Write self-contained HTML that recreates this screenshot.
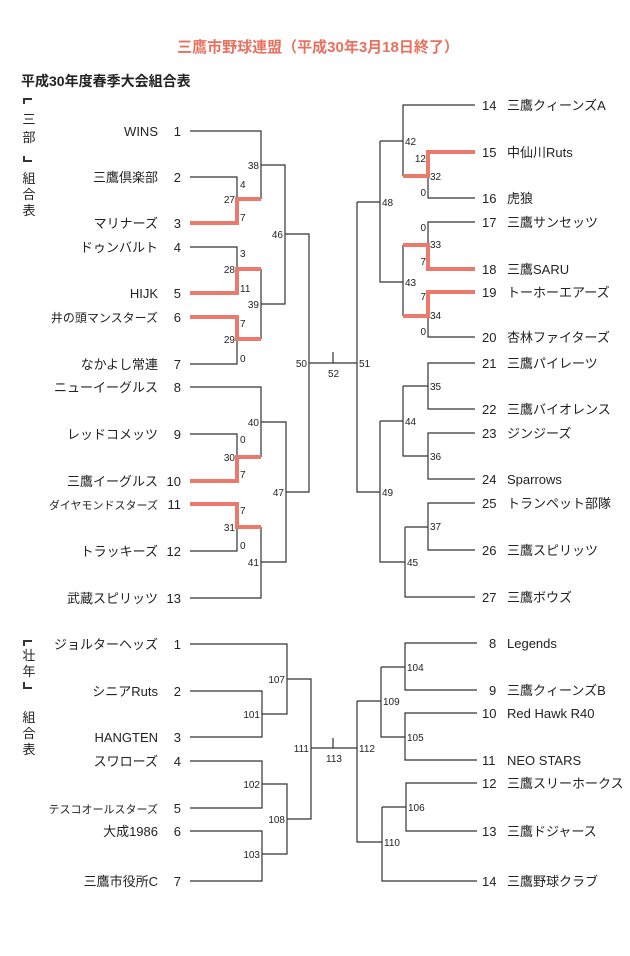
<!DOCTYPE html>
<html><head><meta charset="utf-8"><style>
body{margin:0;background:#fff;}
svg{display:block}
text{font-family:"Liberation Sans","Noto Sans CJK JP",sans-serif;fill:#222}
.n{font-size:13px}
.s{font-size:10px;fill:#333}
.k{stroke:#333;stroke-width:1.2;fill:none}
.r{stroke:#ea7b6c;stroke-width:4;fill:none}
</style></head><body>
<svg width="630" height="956" viewBox="0 0 630 956">
<text x="318" y="52" font-size="15" text-anchor="middle" style="fill:#e8705f;font-weight:bold">三鷹市野球連盟（平成30年3月18日終了）</text>
<text x="21" y="86" font-size="14" style="font-weight:bold">平成30年度春季大会組合表</text>
<path class="k" d="M24 104 V99 H32 M24 156 V161 H32" style="stroke-width:2"/>
<g class="n" text-anchor="middle">
<text x="29" y="124">三</text><text x="29" y="142">部</text>
<text x="29" y="183">組</text><text x="29" y="199">合</text><text x="29" y="215">表</text>
<text x="29" y="660">壮</text><text x="29" y="676">年</text>
<text x="29" y="722">組</text><text x="29" y="738">合</text><text x="29" y="754">表</text>
</g>
<path class="k" d="M24 646 V641 H32 M24 682 V688 H32" style="stroke-width:2"/>

<g class="n" text-anchor="end">
<text x="158" y="136">WINS</text><text x="158" y="182">三鷹倶楽部</text><text x="158" y="228">マリナーズ</text>
<text x="158" y="252">ドゥンバルト</text><text x="158" y="298">HIJK</text><text x="158" y="322" style="font-size:12px">井の頭マンスターズ</text>
<text x="158" y="369">なかよし常連</text><text x="158" y="392">ニューイーグルス</text><text x="158" y="439">レッドコメッツ</text>
<text x="158" y="486">三鷹イーグルス</text><text x="158" y="509" style="font-size:11px">ダイヤモンドスターズ</text><text x="158" y="556">トラッキーズ</text>
<text x="158" y="603">武蔵スピリッツ</text>
<text x="158" y="649">ジョルターヘッズ</text><text x="158" y="696">シニアRuts</text><text x="158" y="742">HANGTEN</text>
<text x="158" y="766">スワローズ</text><text x="158" y="813" style="font-size:11px">テスコオールスターズ</text><text x="158" y="836">大成1986</text>
<text x="158" y="886">三鷹市役所C</text>
</g>
<g class="n" text-anchor="end">
<text x="181" y="136">1</text><text x="181" y="182">2</text><text x="181" y="228">3</text><text x="181" y="252">4</text><text x="181" y="298">5</text><text x="181" y="322">6</text><text x="181" y="369">7</text><text x="181" y="392">8</text><text x="181" y="439">9</text><text x="181" y="486">10</text><text x="181" y="509">11</text><text x="181" y="556">12</text><text x="181" y="603">13</text>
<text x="181" y="649">1</text><text x="181" y="696">2</text><text x="181" y="742">3</text><text x="181" y="766">4</text><text x="181" y="813">5</text><text x="181" y="836">6</text><text x="181" y="886">7</text>
</g>
<g class="n">
<text x="482" y="110">14</text><text x="482" y="157">15</text><text x="482" y="203">16</text><text x="482" y="227">17</text><text x="482" y="274">18</text><text x="482" y="297">19</text><text x="482" y="342">20</text><text x="482" y="368">21</text><text x="482" y="414">22</text><text x="482" y="438">23</text><text x="482" y="484">24</text><text x="482" y="508">25</text><text x="482" y="555">26</text><text x="482" y="602">27</text>
<text x="489" y="648">8</text><text x="489" y="695">9</text><text x="482" y="718">10</text><text x="482" y="765">11</text><text x="482" y="788">12</text><text x="482" y="836">13</text><text x="482" y="886">14</text>
<text x="507" y="110">三鷹クィーンズA</text><text x="507" y="157">中仙川Ruts</text><text x="507" y="203">虎狼</text><text x="507" y="227">三鷹サンセッツ</text><text x="507" y="274">三鷹SARU</text><text x="507" y="297">トーホーエアーズ</text><text x="507" y="342">杏林ファイターズ</text><text x="507" y="368">三鷹パイレーツ</text><text x="507" y="414">三鷹バイオレンス</text><text x="507" y="438">ジンジーズ</text><text x="507" y="484">Sparrows</text><text x="507" y="508">トランペット部隊</text><text x="507" y="555">三鷹スピリッツ</text><text x="507" y="602">三鷹ボウズ</text>
<text x="507" y="648">Legends</text><text x="507" y="695">三鷹クィーンズB</text><text x="507" y="718">Red  Hawk  R40</text><text x="507" y="765">NEO  STARS</text><text x="507" y="788">三鷹スリーホークス</text><text x="507" y="836">三鷹ドジャース</text><text x="507" y="886">三鷹野球クラブ</text>
</g>

<path class="k" d="M190 131 H261 V199 M190 177 H237 V199 M261 165 H285 V304 H261 M285 234 H309 V492 H286 M190 247 H237 V269 M237 339 V364 H190 M261 269 V339
M190 387 H261 V457 M190 434 H237 V457 M237 527 V551 H190 M261 527 V598 H190 M261 422 H286 V562 H261 M309 363 H357 M333 352 V363
M357 202 V492 H380 M357 202 H380 M380 141 V282 H403 M380 141 H403 M475 105 H403 V176 M428 176 V198 H475 M475 222 H428 V245 M428 316 V337 H475 M403 245 V316
M380 421 V562 H405 M380 421 H403 M403 386 V456 H428 M403 386 H428 M475 363 H428 V409 H475 M475 433 H428 V479 H475 M405 527 V597 H475 M405 527 H428 M475 503 H428 V550 H475"/>
<path class="r" d="M190 223 H237 V199 H261 M190 293 H237 V269 H261 M190 317 H237 V339 H261 M190 481 H237 V457 H261 M190 504 H237 V527 H261
M475 152 H428 V176 H403 M475 269 H428 V245 H403 M475 292 H428 V316 H403"/>
<path class="k" d="M190 644 H287 V714 H262 M190 691 H262 V737 H190 M287 679 H311 V819 H287 M190 761 H262 V808 H190 M262 784 H287 V854 H262 M190 831 H262 V881 H190 M311 748 H357 M333 738 V748
M357 701 V842 H382 M357 701 H381 M381 667 V737 H405 M381 667 H405 M477 643 H405 V690 H477 M477 713 H405 V760 H477 M382 807 V881 H477 M382 807 H406 M477 783 H406 V831 H477"/>

<g class="s">
<g text-anchor="end">
<text x="259" y="169">38</text><text x="235" y="203">27</text><text x="283" y="238">46</text><text x="235" y="273">28</text><text x="259" y="308">39</text><text x="235" y="343">29</text><text x="307" y="367">50</text><text x="259" y="426">40</text><text x="235" y="461">30</text><text x="284" y="496">47</text><text x="235" y="531">31</text><text x="259" y="566">41</text>
<text x="426" y="162">12</text><text x="426" y="196">0</text><text x="426" y="231">0</text><text x="426" y="265">7</text><text x="426" y="300">7</text><text x="426" y="335">0</text>
<text x="285" y="683">107</text><text x="260" y="718">101</text><text x="260" y="788">102</text><text x="260" y="858">103</text><text x="285" y="823">108</text><text x="309" y="752">111</text>
</g>
<text x="240" y="188">4</text><text x="240" y="221">7</text><text x="240" y="257">3</text><text x="240" y="292">11</text><text x="240" y="327">7</text><text x="240" y="362">0</text><text x="240" y="443">0</text><text x="240" y="478">7</text><text x="240" y="514">7</text><text x="240" y="549">0</text>
<text x="328" y="377">52</text><text x="359" y="367">51</text>
<text x="405" y="145">42</text><text x="430" y="180">32</text><text x="382" y="206">48</text><text x="430" y="248">33</text><text x="405" y="286">43</text><text x="430" y="319">34</text>
<text x="430" y="390">35</text><text x="405" y="425">44</text><text x="430" y="460">36</text><text x="382" y="496">49</text><text x="430" y="530">37</text><text x="407" y="566">45</text>
<text x="326" y="762">113</text><text x="359" y="752">112</text><text x="407" y="671">104</text><text x="383" y="705">109</text><text x="407" y="741">105</text><text x="408" y="811">106</text><text x="384" y="846">110</text>
</g>
</svg>
</body></html>
